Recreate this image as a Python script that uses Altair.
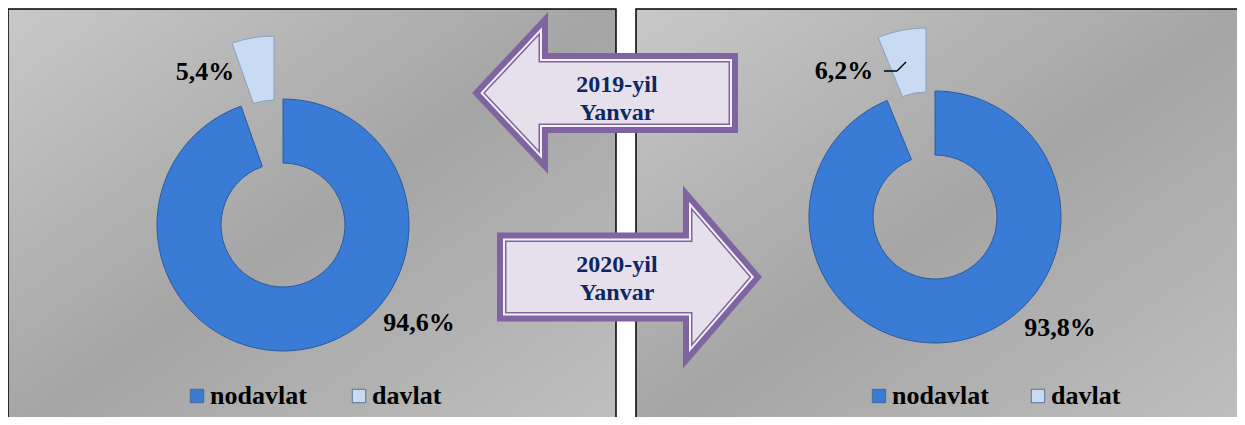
import math
import altair as alt
import pandas as pd

# ---------------- data ----------------
years = ["2019-yil Yanvar", "2020-yil Yanvar"]
categories = ["nodavlat", "davlat"]
share_2019 = [94.6, 5.4]
share_2020 = [93.8, 6.2]

rows = []
for yr, vals in zip(years, [share_2019, share_2020]):
    for i, (cat, val) in enumerate(zip(categories, vals)):
        rows.append({"year": yr, "category": cat, "value": val, "order": i})
df = pd.DataFrame(rows)

# ---------------- styles / layout ----------------
SERIF = "Liberation Serif"
BLUE = "#3A7BD5"
LIGHT = "#C9DBF2"
PURPLE = "#8064A2"
LAVENDER = "#E5E0EC"
NAVY = "#0E2762"
R_OUT, R_IN = 126, 62
EXPLODE = (-9, -63)

LAYOUT = {
    years[0]: dict(cx=275, cy=217, legend_x=176, col_pad=39,
                   labels={"davlat": (197, 64), "nodavlat": (411, 315)}),
    years[1]: dict(cx=927, cy=209, legend_x=858, col_pad=36,
                   labels={"davlat": (836, 63), "nodavlat": (1052, 320)}),
}

PANEL_GRADIENT = alt.Gradient(
    gradient="linear", x1=0, y1=0, x2=1, y2=1,
    stops=[alt.GradientStop(offset=0, color="#C8C8C8"),
           alt.GradientStop(offset=0.5, color="#A5A5A5"),
           alt.GradientStop(offset=1, color="#C0C0C0")])

RING_GRADIENT = alt.Gradient(
    gradient="radial", x1=0.5, y1=0.5, r1=0, x2=0.5, y2=0.5, r2=0.5,
    stops=[alt.GradientStop(offset=0.0, color="#2C5FA9"),
           alt.GradientStop(offset=0.49, color="#2A5CA4"),
           alt.GradientStop(offset=0.54, color="#3978D0"),
           alt.GradientStop(offset=0.65, color="#3D80DA"),
           alt.GradientStop(offset=0.90, color="#3A7BD5"),
           alt.GradientStop(offset=0.965, color="#3270C4"),
           alt.GradientStop(offset=1.0, color="#224D8A")])

one_row = alt.Data(values=[{}])

# ---------------- panels ----------------
def panel(x0, x1):
    return alt.Chart(one_row).mark_rect(
        fill=PANEL_GRADIENT, stroke="black", strokeWidth=1.5
    ).encode(x=alt.value(x0), x2=alt.value(x1), y=alt.value(1), y2=alt.value(430))

bg_left = panel(0, 608)
bg_right = panel(628, 1245)

# ---------------- donuts ----------------
base = alt.Chart(df).transform_window(
    end="sum(value)", groupby=["year"], sort=[alt.SortField("order")], frame=[None, 0]
).transform_calculate(
    start="datum.end - datum.value",
    label="replace(format(datum.value, '.1f'), '.', ',') + '%'"
)

theta = alt.Theta("start:Q", scale=alt.Scale(domain=[0, 100]))
theta2 = alt.Theta2("end:Q")


def donut(yr):
    L = LAYOUT[yr]
    cx, cy = L["cx"], L["cy"]
    b = base.transform_filter(alt.datum.year == yr)
    legend = alt.Legend(
        orient="none", legendX=L["legend_x"], legendY=375, direction="horizontal",
        title=None, symbolType="square", symbolSize=180,
        symbolStrokeColor="#3F5F8A", symbolStrokeWidth=0.8, symbolOpacity=1,
        labelFont=SERIF, labelFontSize=26, labelFontWeight="bold", labelColor="black",
        labelOffset=0, columnPadding=L["col_pad"], padding=0, labelLimit=0)
    fill_scale = alt.Scale(domain=categories, range=[BLUE, LIGHT])

    ring = b.transform_filter(alt.datum.category == "nodavlat").mark_arc(
        outerRadius=R_OUT, innerRadius=R_IN, fill=RING_GRADIENT,
        stroke="#2A5A9F", strokeWidth=1
    ).encode(x=alt.value(cx), y=alt.value(cy), theta=theta, theta2=theta2,
             fill=alt.Fill("category:N", scale=fill_scale, legend=legend))

    piece = b.transform_filter(alt.datum.category == "davlat").mark_arc(
        outerRadius=R_OUT, innerRadius=R_IN, stroke="#86A2C6", strokeWidth=1
    ).encode(x=alt.value(cx + EXPLODE[0]), y=alt.value(cy + EXPLODE[1]),
             theta=theta, theta2=theta2,
             fill=alt.Fill("category:N", scale=fill_scale, legend=legend))

    texts = []
    for cat in categories:
        lx, ly = L["labels"][cat]
        texts.append(
            b.transform_filter(alt.datum.category == cat).mark_text(
                font=SERIF, fontSize=26, fontWeight="bold", color="black",
                align="center", baseline="middle"
            ).encode(x=alt.value(lx), y=alt.value(ly), text="label:N")
        )
    return alt.layer(ring, piece, *texts)


donut_2019 = donut(years[0])
donut_2020 = donut(years[1])

# leader line for 6,2%
leader_a = alt.Chart(one_row).mark_rule(color="black", strokeWidth=1.5).encode(
    x=alt.value(876), x2=alt.value(889), y=alt.value(63), y2=alt.value(63))
leader_b = alt.Chart(one_row).mark_rule(color="black", strokeWidth=1.5).encode(
    x=alt.value(889), x2=alt.value(898), y=alt.value(63), y2=alt.value(54))

# ---------------- arrows ----------------
def arrow_poly(W, Hh, Hs, Lh, direction):
    hw = W / 2
    pts = [(-hw, 0), (-hw + Lh, -Hh / 2), (-hw + Lh, -Hs / 2), (hw, -Hs / 2),
           (hw, Hs / 2), (-hw + Lh, Hs / 2), (-hw + Lh, Hh / 2)]
    if direction == "right":
        pts = [(-x, y) for x, y in pts]
    return pts


def offset_poly(pts, d):
    n = len(pts)
    area = sum(pts[i][0] * pts[(i + 1) % n][1] - pts[(i + 1) % n][0] * pts[i][1]
               for i in range(n))
    sgn = 1 if area > 0 else -1

    def normal(a, b):
        ex, ey = b[0] - a[0], b[1] - a[1]
        ln = math.hypot(ex, ey)
        return (-ey / ln * sgn, ex / ln * sgn)

    out = []
    for i in range(n):
        p0, p1, p2 = pts[i - 1], pts[i], pts[(i + 1) % n]
        n1, n2 = normal(p0, p1), normal(p1, p2)
        a0 = (p0[0] + n1[0] * d, p0[1] + n1[1] * d)
        e1 = (p1[0] - p0[0], p1[1] - p0[1])
        b0 = (p1[0] + n2[0] * d, p1[1] + n2[1] * d)
        e2 = (p2[0] - p1[0], p2[1] - p1[1])
        cr = e1[0] * e2[1] - e1[1] * e2[0]
        t = ((b0[0] - a0[0]) * e2[1] - (b0[1] - a0[1]) * e2[0]) / cr
        out.append((a0[0] + t * e1[0], a0[1] + t * e1[1]))
    return out


def to_path(pts, scale):
    s = " ".join(("M" if i == 0 else "L") + f" {x / scale:.4f} {y / scale:.4f}"
                 for i, (x, y) in enumerate(pts))
    return s + " Z"


ARROWS = [
    dict(year=years[0], direction="left", cx=597, cy=85, W=266, Hh=162, Hs=80, Lh=76, ty=77),
    dict(year=years[1], direction="right", cx=621.5, cy=269, W=265, Hh=183, Hs=89, Lh=79, ty=257),
]
ARROW_BANDS = [(0, PURPLE), (6, "#F4F1F8"), (8, PURPLE), (9.5, LAVENDER)]

arrow_layers = []
label_df = pd.DataFrame({"year": years})
for a in ARROWS:
    poly = arrow_poly(a["W"], a["Hh"], a["Hs"], a["Lh"], a["direction"])
    for inset, col in ARROW_BANDS:
        shape = to_path(offset_poly(poly, inset), a["W"] / 2)
        arrow_layers.append(
            alt.Chart(one_row).mark_point(
                shape=shape, size=a["W"] ** 2, filled=True, color=col, opacity=1
            ).encode(x=alt.value(a["cx"]), y=alt.value(a["cy"]))
        )
    arrow_layers.append(
        alt.Chart(label_df).transform_filter(alt.datum.year == a["year"]).mark_text(
            font=SERIF, fontSize=24, fontWeight="bold", color=NAVY,
            align="center", baseline="middle", lineBreak=" ", lineHeight=28
        ).encode(x=alt.value(609), y=alt.value(a["ty"]), text="year:N")
    )

chart = alt.layer(
    bg_left, bg_right, donut_2019, donut_2020, leader_a, leader_b, *arrow_layers
).resolve_scale(fill="independent").properties(
    width=1229, height=409, padding=0,
    autosize=alt.AutoSizeParams(type="none")
).configure_view(strokeWidth=0).configure_legend(
    labelFont=SERIF, labelFontSize=26, labelFontWeight="bold", labelColor="black"
)

chart.save("out.html", embed_options={"renderer": "svg", "actions": False})
